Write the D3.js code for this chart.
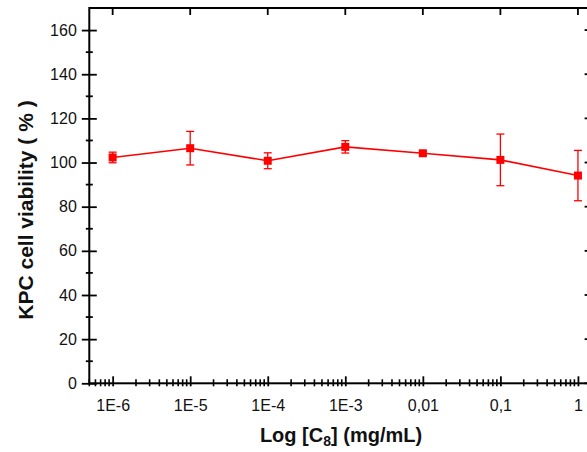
<!DOCTYPE html>
<html>
  <head>
    <script src="https://d3js.org/d3.v7.min.js"></script>
    <style>
      body { margin: 0; background: #fff; }
      text { font-family: Arial, "Liberation Sans", sans-serif; }
    </style>
  </head>
  <body>
    <div id="graph"></div>
    <script>

var w = 587;
var h = 452;

// data
var concentrations = [1e-6, 1e-5, 1e-4, 1e-3, 0.01, 0.1, 1];
var viability = [102.3, 106.5, 100.8, 107.1, 104.2, 101.2, 94.1];
var errors = [2.4, 7.6, 3.6, 2.8, 1.0, 11.7, 11.4];
var xTickValues = [1e-6, 1e-5, 1e-4, 1e-3, 0.01, 0.1, 1];
var xTickLabels = ["1E-6", "1E-5", "1E-4", "1E-3", "0,01", "0,1", "1"];
var yTickValues = [0, 20, 40, 60, 80, 100, 120, 140, 160];

// plot box (top is a reserved window name, so prefix)
var pLeft = 89.3, pRight = 591.6, pTop = 8, pBottom = 383.3;

var svg = d3.select("#graph")
  .append("svg")
  .attr("width", w)
  .attr("height", h);

var xScale = d3.scaleLog()
  .domain([5e-7, 1.5])
  .range([pLeft, pRight]);

var yScale = d3.scaleLinear()
  .domain([0, 170])
  .range([pBottom, pTop]);

// minor ticks on the log axis
var xMinor = [];
for (var e = -7; e <= 0; e++) {
  for (var m = 2; m <= 9; m++) {
    var v = m * Math.pow(10, e);
    if (v >= 5e-7 && v <= 1.5) xMinor.push(v);
  }
}
var yMinor = d3.range(10, 170, 20);

var axisColor = "#000";

// left axis
var yAxis = svg.append("g")
  .attr("transform", "translate(" + pLeft + ",0)")
  .call(d3.axisLeft(yScale).tickValues(yTickValues).tickSize(7.5).tickPadding(5));
yAxis.select(".domain").remove();
yAxis.selectAll(".tick line").attr("x1", 7.5).attr("stroke-width", 1.8);
yAxis.selectAll(".tick text").attr("font-size", "16px").attr("fill", "#111")
  .attr("font-family", "Arial, 'Liberation Sans', sans-serif");

svg.append("g").selectAll("line")
  .data(yMinor)
  .enter()
  .append("line")
  .attr("x1", pLeft - 3.5)
  .attr("x2", pLeft + 3.5)
  .attr("y1", function(d) { return yScale(d); })
  .attr("y2", function(d) { return yScale(d); })
  .attr("stroke", axisColor)
  .attr("stroke-width", 1.8);

// bottom axis
var xAxis = svg.append("g")
  .attr("transform", "translate(0," + pBottom + ")")
  .call(d3.axisBottom(xScale)
    .tickValues(xTickValues)
    .tickFormat(function(d, i) { return xTickLabels[i]; })
    .tickSize(3)
    .tickPadding(13));
xAxis.select(".domain").remove();
xAxis.selectAll(".tick line").attr("y1", -7).attr("stroke-width", 1.8);
xAxis.selectAll(".tick text").attr("font-size", "16px").attr("fill", "#111")
  .attr("font-family", "Arial, 'Liberation Sans', sans-serif");

svg.append("g").selectAll("line")
  .data(xMinor)
  .enter()
  .append("line")
  .attr("x1", function(d) { return xScale(d); })
  .attr("x2", function(d) { return xScale(d); })
  .attr("y1", pBottom - 4)
  .attr("y2", pBottom + 3)
  .attr("stroke", axisColor)
  .attr("stroke-width", 1.6);

// top axis ticks
svg.append("g").selectAll("line")
  .data(xTickValues)
  .enter()
  .append("line")
  .attr("x1", function(d) { return xScale(d); })
  .attr("x2", function(d) { return xScale(d); })
  .attr("y1", pTop)
  .attr("y2", pTop + 7)
  .attr("stroke", axisColor)
  .attr("stroke-width", 1.8);

// right axis ticks
svg.append("g").selectAll("line")
  .data(yTickValues)
  .enter()
  .append("line")
  .attr("x1", pRight)
  .attr("x2", pRight - 7)
  .attr("y1", function(d) { return yScale(d); })
  .attr("y2", function(d) { return yScale(d); })
  .attr("stroke", axisColor)
  .attr("stroke-width", 1.8);

// frame
svg.append("rect")
  .attr("x", pLeft)
  .attr("y", pTop)
  .attr("width", pRight - pLeft)
  .attr("height", pBottom - pTop)
  .attr("fill", "none")
  .attr("stroke", axisColor)
  .attr("stroke-width", 2);

var red = "#ff0000";
var data = concentrations.map(function(c, i) {
  return { x: c, y: viability[i], e: errors[i] };
});

// error bars
var eb = svg.append("g").attr("stroke", red).attr("stroke-width", 1.3);
eb.selectAll(".stem")
  .data(data)
  .enter()
  .append("line")
  .attr("x1", function(d) { return xScale(d.x); })
  .attr("x2", function(d) { return xScale(d.x); })
  .attr("y1", function(d) { return yScale(d.y + d.e); })
  .attr("y2", function(d) { return yScale(d.y - d.e); });
eb.selectAll(".capTop")
  .data(data)
  .enter()
  .append("line")
  .attr("x1", function(d) { return xScale(d.x) - 4; })
  .attr("x2", function(d) { return xScale(d.x) + 4; })
  .attr("y1", function(d) { return yScale(d.y + d.e); })
  .attr("y2", function(d) { return yScale(d.y + d.e); });
eb.selectAll(".capBottom")
  .data(data)
  .enter()
  .append("line")
  .attr("x1", function(d) { return xScale(d.x) - 4; })
  .attr("x2", function(d) { return xScale(d.x) + 4; })
  .attr("y1", function(d) { return yScale(d.y - d.e); })
  .attr("y2", function(d) { return yScale(d.y - d.e); });

// line
var line = d3.line()
  .x(function(d) { return xScale(d.x); })
  .y(function(d) { return yScale(d.y); });
svg.append("path")
  .datum(data)
  .attr("d", line)
  .attr("fill", "none")
  .attr("stroke", red)
  .attr("stroke-width", 1.6);

// markers
svg.selectAll(".marker")
  .data(data)
  .enter()
  .append("rect")
  .attr("x", function(d) { return xScale(d.x) - 4; })
  .attr("y", function(d) { return yScale(d.y) - 4; })
  .attr("width", 8)
  .attr("height", 8)
  .attr("fill", red);

// axis titles
svg.append("text")
  .attr("transform", "translate(33,210) rotate(-90)")
  .attr("text-anchor", "middle")
  .attr("font-size", "21px")
  .attr("font-weight", "bold")
  .attr("fill", "#111")
  .text("KPC cell viability ( % )");

var xt = svg.append("text")
  .attr("x", 341)
  .attr("y", 442)
  .attr("text-anchor", "middle")
  .attr("font-size", "20px")
  .attr("font-weight", "bold")
  .attr("fill", "#111");
xt.append("tspan").text("Log [C");
xt.append("tspan").attr("font-size", "14px").attr("dy", 4).text("8");
xt.append("tspan").attr("dy", -4).text("] (mg/mL)");

    </script>
  </body>
</html>
